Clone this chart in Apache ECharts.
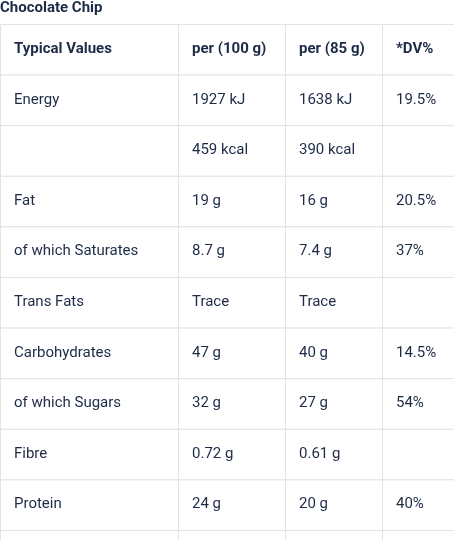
<!DOCTYPE html>
<html><head><meta charset="utf-8">
<script src="https://cdn.jsdelivr.net/npm/echarts@6/dist/echarts.min.js"></script>
<style>html,body{margin:0;padding:0;background:#fff}#c{width:454px;height:540px}</style>
</head><body><div id="c"></div>
<script>
const title = 'Chocolate Chip';
const headers = ['Typical Values', 'per (100 g)', 'per (85 g)', '*DV%'];
const nutrients = ['Energy', '', 'Fat', 'of which Saturates', 'Trans Fats', 'Carbohydrates', 'of which Sugars', 'Fibre', 'Protein', ''];
const per100 = ['1927 kJ', '459 kcal', '19 g', '8.7 g', 'Trace', '47 g', '32 g', '0.72 g', '24 g', ''];
const per85 = ['1638 kJ', '390 kcal', '16 g', '7.4 g', 'Trace', '40 g', '27 g', '0.61 g', '20 g', ''];
const dv = ['19.5%', '', '20.5%', '37%', '', '14.5%', '54%', '', '40%', ''];

const rows = [headers];
nutrients.forEach((n, i) => rows.push([n, per100[i], per85[i], dv[i]]));
const cells = [];
rows.forEach((r, ri) => r.forEach((t, ci) => cells.push([ci, ri, t])));

const colEdges = [0, 178, 285, 382, 454];
const FONT = '"Liberation Sans Narrow","Roboto","Noto Sans",sans-serif';
const INK = '#1d2b47';

const chart = echarts.init(document.getElementById('c'));
chart.setOption({
  animation: false,
  title: { text: title, left: 0, top: 1, padding: 0,
    textStyle: { fontFamily: FONT, fontSize: 15, fontWeight: 'bold', color: INK } },
  grid: { left: 0, right: 0, top: 24, bottom: 0 },
  xAxis: { type: 'value', min: 0, max: 454, show: false },
  yAxis: { type: 'value', min: 0, max: 516 / 50.6, inverse: true, show: false },
  series: [{
    type: 'custom',
    data: cells,
    renderItem: function (params, api) {
      const ci = api.value(0), ri = api.value(1);
      const p0 = api.coord([colEdges[ci], ri]);
      const p1 = api.coord([colEdges[ci + 1], ri + 1]);
      const txt = cells[params.dataIndex][2];
      return {
        type: 'group',
        children: [
          { type: 'rect', shape: { x: p0[0] + 0.5, y: p0[1] + 0.5, width: p1[0] - p0[0], height: p1[1] - p0[1] },
            style: { fill: '#fff', stroke: '#e3e3e3', lineWidth: 1 } },
          { type: 'text', x: p0[0] + 14, y: (p0[1] + p1[1]) / 2,
            style: { text: txt, fill: INK, font: (ri === 0 ? 'bold ' : '') + '15px ' + FONT,
              textVerticalAlign: 'middle' } }
        ]
      };
    }
  }]
});
</script></body></html>
